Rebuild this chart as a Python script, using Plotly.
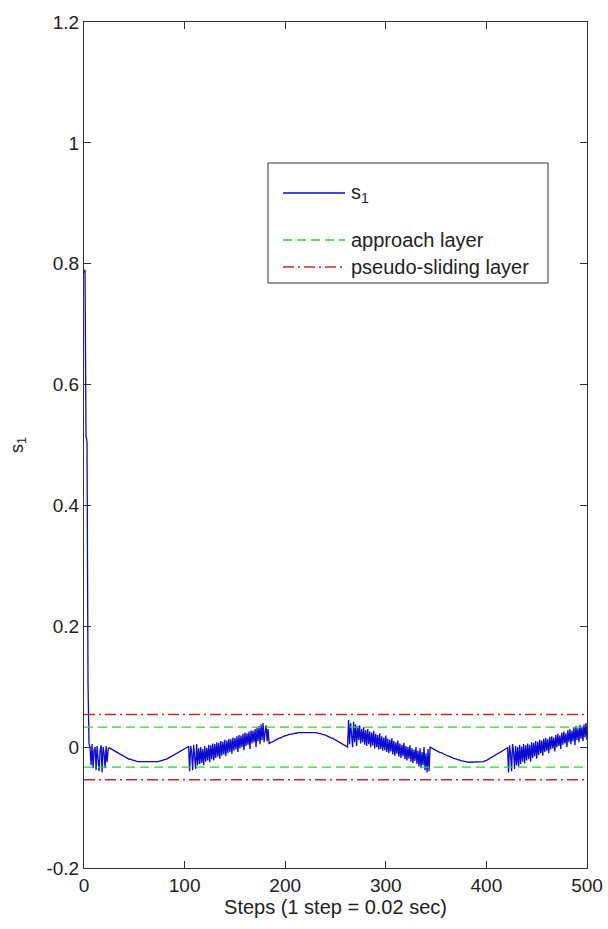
import plotly.graph_objects as go

# ---- data (values in thousandths of s1) ----
seg_start = [785, 790, 515, 505, 105, 5]
seg_chat1 = [0, -30, 5, -35, -5, 0, -38, 2, -20, -40, -5, 3, -42, 0, -10, -35, 2, -25, -3]
seg_dip1 = [-1, -2, -3, -4, -5, -6, -7, -8, -9, -10,
            -11, -12, -13, -14, -15, -16, -17, -17, -18, -19,
            -20, -20, -21, -21, -22, -22, -23, -23, -24, -24,
            -24, -25, -25, -25, -25, -25, -25, -25, -25, -25,
            -25, -25, -25, -25, -25, -25, -25, -24, -24, -24,
            -23, -23, -22, -22, -21, -21, -20, -20, -19, -18,
            -17, -17, -16, -15, -14, -13, -12, -11, -10, -9,
            -8, -7, -6, -5, -4, -3, -2, -1, 0, 1]
seg_chat2 = [-40, 2, -8, -38, 4, -12, -36, 5, -30, -2,
             -28, 0, -26, -3, -30, 2, -24, -1, -22, 4,
             -25, 3, -20, 6, -22, 5, -18, 8, -16, 7,
             -19, 10, -14, 9, -12, 12, -15, 11, -10, 14,
             -8, 13, -11, 16, -6, 15, -4, 18, -8, 20,
             -2, 19, 0, 22, -5, 24, 2, 23, 4, 26,
             -3, 28, 6, 27, 8, 30, 0, 32, 10, 35,
             5, 38, 12, 40, 8, 25, 36, 10, 30, 6]
seg_hump = [7, 8, 9, 10, 11, 12, 12, 13, 14, 15,
            15, 16, 17, 17, 18, 19, 19, 20, 20, 21,
            21, 22, 22, 22, 23, 23, 23, 24, 24, 24,
            24, 25, 25, 25, 25, 25, 25, 25, 25, 25,
            25, 25, 25, 25, 24, 24, 24, 23, 23, 23,
            22, 22, 21, 21, 20, 20, 19, 18, 18, 17,
            16, 15, 15, 14, 13, 12, 11, 10, 9, 8,
            7, 6, 5, 4, 3, 2, 1, 0]
seg_chat3 = [45, 5, 40, 10, 0, 42, 8, 38, 2, 35,
             12, 36, 6, 30, 8, 33, 4, 28, 2, 30,
             5, 26, 0, 24, 3, 27, -2, 22, 0, 20,
             -4, 23, -3, 18, -6, 16, -5, 19, -8, 14,
             -10, 12, -7, 15, -12, 10, -14, 8, -11, 11,
             -16, 6, -18, 4, -15, 7, -20, 2, -22, 0,
             -19, 3, -24, -2, -26, -4, -23, 0, -28, -6,
             -32, -2, -35, -8, -30, 0, -38, -10, -42, -3,
             -40]
seg_dip2 = [0, -1, -2, -3, -4, -5, -5, -6, -7, -8,
            -9, -9, -10, -11, -12, -12, -13, -14, -15, -15,
            -16, -17, -17, -18, -19, -19, -20, -20, -21, -21,
            -22, -22, -23, -23, -24, -24, -24, -25, -25, -25,
            -25, -25, -25, -25, -25, -25, -25, -25, -25, -25,
            -25, -25, -24, -24, -23, -23, -22, -21, -20, -19,
            -18, -17, -16, -15, -14, -13, -12, -11, -10, -9,
            -8, -7, -6, -5, -4, -3, -2, -1]
seg_chat4 = [-42, 3, -10, -40, 5, -8, -36, 2, -30, 0,
             -33, 4, -28, 1, -24, 5, -27, 3, -22, 6,
             -20, 4, -24, 8, -18, 7, -15, 10, -19, 9,
             -13, 12, -10, 11, -14, 14, -8, 15, -6, 13,
             -10, 17, -4, 18, -2, 16, -7, 20, 0, 22,
             2, 19, -3, 24, 4, 26, 6, 23, 0, 28,
             8, 30, 5, 27, 10, 33, 3, 35, 12, 31,
             8, 37, 14, 34, 10, 38, 16, 40, 12]

s1_milli = seg_start + seg_chat1 + seg_dip1 + seg_chat2 + seg_hump + seg_chat3 + seg_dip2 + seg_chat4
s1 = [v / 1000.0 for v in s1_milli]
steps = list(range(len(s1)))

approach = 0.033
pseudo = 0.054

x_ticks = [0, 100, 200, 300, 400, 500]
y_ticks = [-0.2, 0, 0.2, 0.4, 0.6, 0.8, 1, 1.2]
y_labels = ["-0.2", "0", "0.2", "0.4", "0.6", "0.8", "1", "1.2"]

FONT = "Liberation Sans Narrow, Arial Narrow, Liberation Sans, Arial, sans-serif"
BLUE = "#0a0ad0"
GREEN = "#22dd22"
RED = "#cc2626"
GREEN_DASH = "9px,5px"
RED_DASH = "11px,4px,2px,4px"

fig = go.Figure()
fig.add_trace(go.Scatter(x=steps, y=s1, mode="lines", line=dict(color=BLUE, width=1.3), showlegend=False))
for sgn in (1, -1):
    fig.add_trace(go.Scatter(x=[steps[0], steps[-1]], y=[sgn * approach] * 2, mode="lines",
                             line=dict(color=GREEN, width=1.3, dash=GREEN_DASH), showlegend=False))
    fig.add_trace(go.Scatter(x=[steps[0], steps[-1]], y=[sgn * pseudo] * 2, mode="lines",
                             line=dict(color=RED, width=1.3, dash=RED_DASH), showlegend=False))

# manual legend (paper coordinates)
L, R, T, B = 84, 21, 22, 61
W, H = 608 - L - R, 929 - T - B
def px(x):
    return (x - L) / W
def py(y):
    return (T + H - y) / H

shapes = [dict(type="rect", xref="paper", yref="paper", x0=px(268), x1=px(548), y0=py(283), y1=py(163),
               line=dict(color="#333333", width=1), fillcolor="white", layer="above")]
legend_items = [("s<sub>1</sub>", BLUE, "solid", 193),
                ("approach layer", GREEN, GREEN_DASH, 240),
                ("pseudo-sliding layer", RED, RED_DASH, 267)]
annotations = []
for label, col, dash, yy in legend_items:
    shapes.append(dict(type="line", xref="paper", yref="paper", x0=px(283), x1=px(345), y0=py(yy), y1=py(yy),
                       line=dict(color=col, width=1.3, dash=dash), layer="above"))
    annotations.append(dict(xref="paper", yref="paper", x=px(349), y=py(yy), text=label, showarrow=False,
                            xanchor="left", yanchor="middle", font=dict(family=FONT, size=20, color="#222222")))

fig.update_layout(
    width=608, height=929,
    margin=dict(l=L, r=R, t=T, b=B, autoexpand=False),
    paper_bgcolor="white", plot_bgcolor="white",
    font=dict(family=FONT, size=18, color="#222222"),
    shapes=shapes, annotations=annotations,
    showlegend=False,
)
fig.update_xaxes(range=[0, 500], tickvals=x_ticks, ticks="inside", ticklen=7, tickcolor="#333333",
                 showline=True, linecolor="#333333", linewidth=1, mirror="ticks", showgrid=False, zeroline=False,
                 automargin=False,
                 title=dict(text="Steps (1 step = 0.02 sec)", standoff=4, font=dict(size=20)),
                 tickfont=dict(size=19))
fig.update_yaxes(range=[-0.2, 1.2], tickvals=y_ticks, ticktext=y_labels, ticks="inside", ticklen=7,
                 tickcolor="#333333", showline=True, linecolor="#333333", linewidth=1, mirror="ticks",
                 showgrid=False, zeroline=False, automargin=False,
                 title=dict(text="s<sub>1</sub>", standoff=18, font=dict(size=18)),
                 tickfont=dict(size=19))

fig.write_html("out.html")
